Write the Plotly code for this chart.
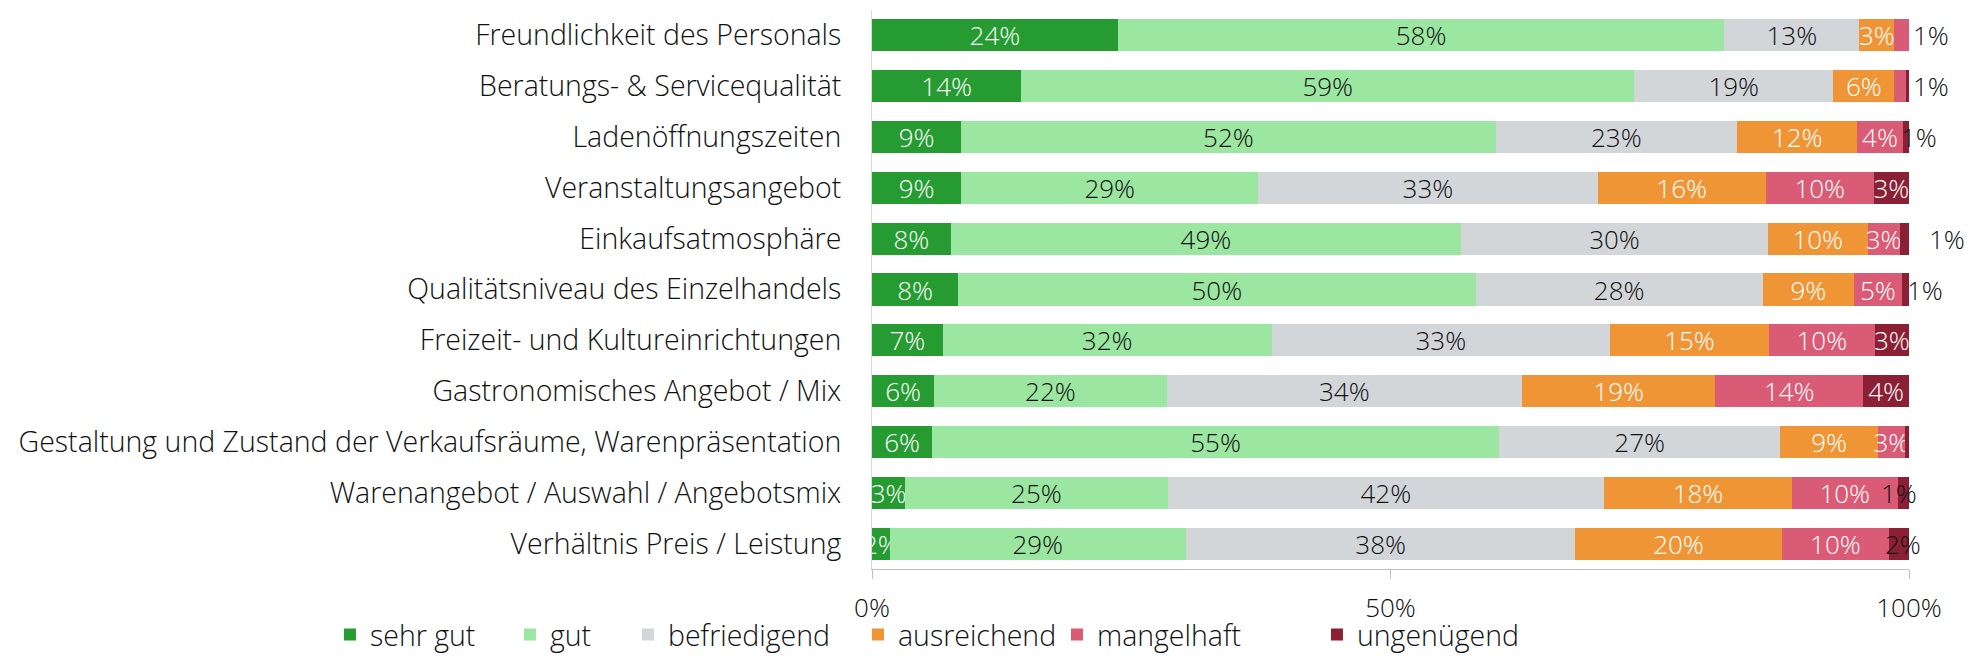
import plotly.graph_objects as go

categories = [
    "Freundlichkeit des Personals",
    "Beratungs- & Servicequalität",
    "Ladenöffnungszeiten",
    "Veranstaltungsangebot",
    "Einkaufsatmosphäre",
    "Qualitätsniveau des Einzelhandels",
    "Freizeit- und Kultureinrichtungen",
    "Gastronomisches Angebot / Mix",
    "Gestaltung und Zustand der Verkaufsräume, Warenpräsentation",
    "Warenangebot / Auswahl / Angebotsmix",
    "Verhältnis Preis / Leistung",
]

# shares in percent
sehr_gut = [23.7, 14.4, 8.6, 8.6, 7.6, 8.3, 6.8, 6.0, 5.8, 3.2, 1.7]
gut = [58.5, 59.1, 51.6, 28.6, 49.2, 49.9, 31.7, 22.4, 54.6, 25.3, 28.6]
befriedigend = [13.0, 19.2, 23.3, 32.7, 29.6, 27.7, 32.6, 34.3, 27.1, 42.1, 37.6]
ausreichend = [3.4, 5.9, 11.6, 16.2, 9.6, 8.8, 15.3, 18.6, 9.4, 18.1, 19.9]
mangelhaft = [1.4, 1.1, 4.4, 10.4, 3.1, 4.6, 10.2, 14.3, 2.6, 10.2, 10.4]
ungenuegend = [0.0, 0.3, 0.6, 3.4, 0.9, 0.7, 3.3, 4.4, 0.4, 1.1, 1.9]
tick_vals = [0, 50, 100]
tick_text = ["0%", "50%", "100%"]

series = [
    ("sehr gut", sehr_gut, "#259b32", "white", 135),
    ("gut", gut, "#9be6a0", "#111111", 73),
    ("befriedigend", befriedigend, "#d3d6d9", "#111111", 185),
    ("ausreichend", ausreichend, "#f09535", "white", 154),
    ("mangelhaft", mangelhaft, "#d95b75", "white", 215),
    ("ungenügend", ungenuegend, "#8b2035", "white", 175),
]

# small segments whose label sits beside the bar end: (series, row) -> x shift in px
outside = {
    ("mangelhaft", 0): 2,
    ("mangelhaft", 1): 2,
    ("ungenügend", 2): -10,
    ("ungenügend", 4): 18,
    ("ungenügend", 5): -4,
    ("ungenügend", 9): -30,
    ("ungenügend", 10): -26,
}

FONT = "Open Sans"
FS_LABEL = 26
FS_TEXT = 28.5
PLOT_H = 652 - 2 - 91

fig = go.Figure()
for name, vals, color, tcolor, lw in series:
    texts = []
    for i, v in enumerate(vals):
        if (name, i) in outside or round(v) == 0:
            texts.append("")
        else:
            texts.append(f"{round(v)}%")
    fig.add_trace(
        go.Bar(
            y=categories,
            x=vals,
            name=name,
            orientation="h",
            marker={"color": color, "line": {"width": 0}},
            text=texts,
            textposition="inside",
            insidetextanchor="middle",
            textangle=0,
            constraintext="none",
            textfont={"family": FONT, "size": FS_LABEL, "color": tcolor, "weight": 300},
            legendwidth=lw,
            hoverinfo="skip",
        )
    )

values_by_name = {s[0]: s[1] for s in series}
for (name, i), shift in outside.items():
    fig.add_annotation(
        x=100,
        y=categories[i],
        text=f"{max(round(values_by_name[name][i]), 1)}%",
        showarrow=False,
        xanchor="left",
        xshift=shift,
        font={"family": FONT, "size": FS_LABEL, "color": "#111111", "weight": 300},
    )

fig.update_layout(
    barmode="stack",
    barnorm="percent",
    bargap=0.37,
    width=1959,
    height=652,
    plot_bgcolor="white",
    paper_bgcolor="white",
    font={"family": FONT, "size": FS_TEXT, "color": "#111111", "weight": 300},
    margin={"l": 864, "r": 58, "t": 2, "b": 91, "autoexpand": False},
    showlegend=True,
    legend={
        "orientation": "h",
        "x": -0.5227,
        "xanchor": "left",
        "y": -66 / PLOT_H,
        "yanchor": "middle",
        "bgcolor": "rgba(0,0,0,0)",
        "font": {"family": FONT, "size": FS_TEXT, "weight": 300},
        "traceorder": "normal",
    },
    xaxis={
        "range": [0, 100],
        "tickvals": tick_vals,
        "ticktext": tick_text,
        "tickfont": {"size": FS_LABEL},
        "showgrid": False,
        "zeroline": False,
        "showline": True,
        "linecolor": "#bfbfbf",
        "linewidth": 1,
        "ticks": "outside",
        "tickcolor": "#bfbfbf",
        "ticklen": 9,
        "ticklabelstandoff": 7,
        "automargin": False,
        "fixedrange": True,
    },
    yaxis={
        "autorange": "reversed",
        "showgrid": False,
        "showline": True,
        "linecolor": "#d9d9d9",
        "ticks": "",
        "ticklabelstandoff": 24,
        "automargin": False,
        "fixedrange": True,
    },
)

fig.write_html("out.html")
